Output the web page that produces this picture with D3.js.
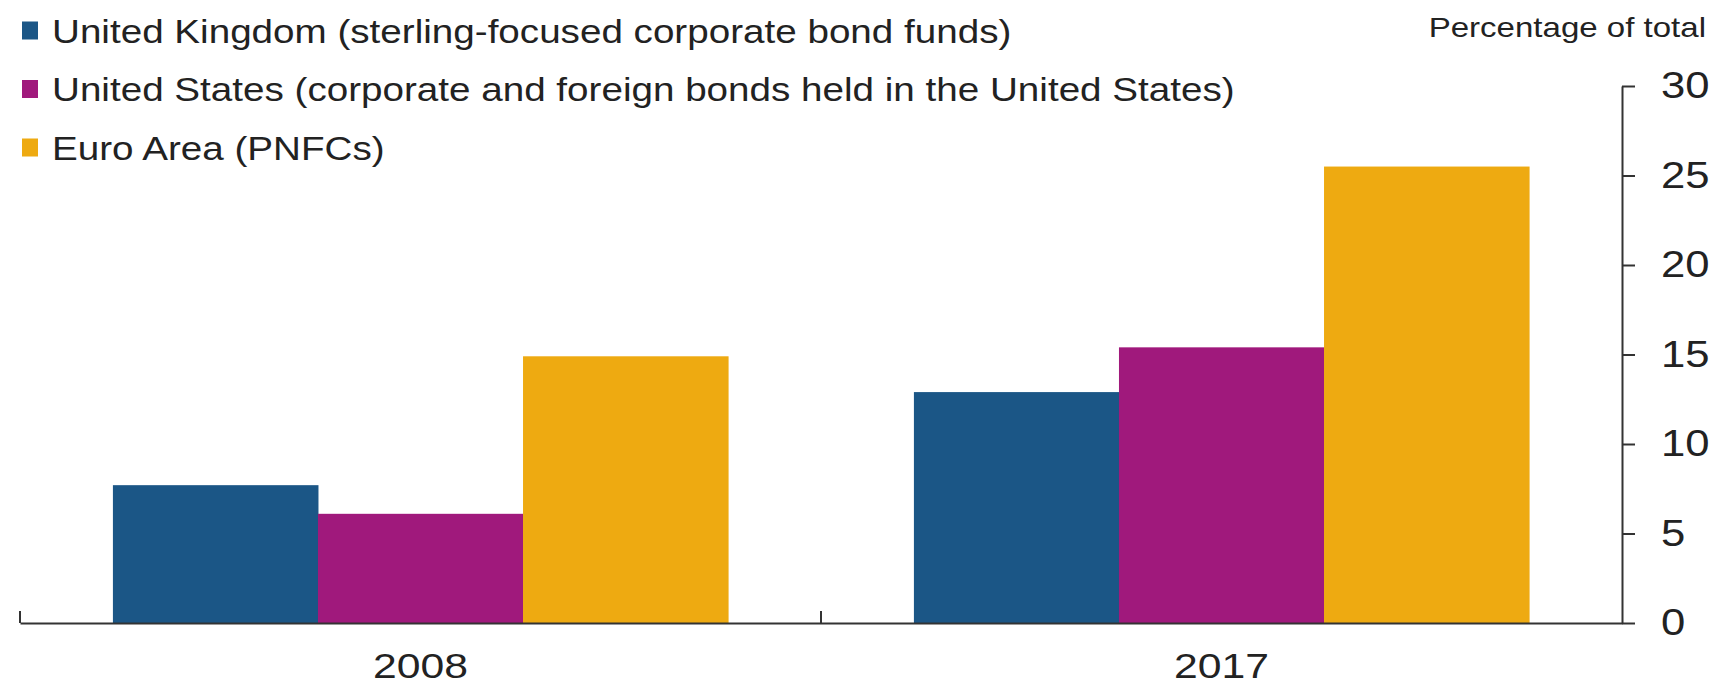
<!DOCTYPE html>
<html>
<head>
<meta charset="utf-8">
<script src="https://cdn.jsdelivr.net/npm/d3@7"></script>
<style>
  html, body { margin: 0; padding: 0; background: #fff; }
  svg { display: block; font-family: "Liberation Sans", Arial, sans-serif; }
</style>
</head>
<body>
<svg id="chart" width="1714" height="687"></svg>
<script>
// Share of bonds, percentage of total
const years = ["2008", "2017"];
const seriesNames = [
  "United Kingdom (sterling-focused corporate bond funds)",
  "United States (corporate and foreign bonds held in the United States)",
  "Euro Area (PNFCs)"
];
const ukValues = [7.7, 12.9];
const usValues = [6.1, 15.4];
const euroValues = [14.9, 25.5];
const yTicks = [0, 5, 10, 15, 20, 25, 30];
const unitLabel = "Percentage of total";

const colors = ["#1b5686", "#a0197c", "#eeaa11"];
const seriesValues = [ukValues, usValues, euroValues];

const svg = d3.select("#chart");
const textColor = "#222";
const axisColor = "#333";

const plot = { left: 20, right: 1622, top: 86, bottom: 623 };

// widen glyphs to the chart's text proportions
function stretch(sel, k) {
  sel.each(function () {
    const w = this.getComputedTextLength();
    this.setAttribute("textLength", w * k);
    this.setAttribute("lengthAdjust", "spacingAndGlyphs");
  });
}

const x0 = d3.scaleBand().domain(years).range([plot.left, plot.right]).padding(0);
const bw = x0.bandwidth();
const x1 = d3.scaleBand().domain(d3.range(seriesNames.length))
  .range([bw * 0.116, bw * 0.884]).padding(0);
const y = d3.scaleLinear().domain([0, 30]).range([plot.bottom, plot.top]);

// bars
const groups = svg.append("g").selectAll("g")
  .data(years)
  .join("g")
  .attr("transform", d => `translate(${x0(d)},0)`);

groups.selectAll("rect")
  .data((d, i) => seriesValues.map((vals, s) => ({ s, v: vals[i] })))
  .join("rect")
  .attr("x", d => x1(d.s))
  .attr("width", x1.bandwidth() + 0.5)
  .attr("y", d => y(d.v))
  .attr("height", d => y(0) - y(d.v))
  .attr("fill", d => colors[d.s]);

// right value axis
const yAxis = svg.append("g")
  .attr("transform", `translate(${plot.right},0)`)
  .call(d3.axisRight(y).tickValues(yTicks).tickSize(13).tickSizeOuter(0).tickPadding(26));
yAxis.select(".domain").attr("stroke", axisColor).attr("stroke-width", 2);
yAxis.selectAll(".tick line").attr("stroke", axisColor).attr("stroke-width", 2);
yAxis.selectAll(".tick text")
  .attr("fill", textColor)
  .style("font-size", "37px")
  .style("font-family", "'Liberation Sans', Arial, sans-serif")
  .call(stretch, 1.18);

// category axis along the baseline
const xAxis = svg.append("g")
  .attr("transform", `translate(0,${plot.bottom})`)
  .call(d3.axisBottom(x0).tickSize(0).tickSizeOuter(0).tickPadding(30));
xAxis.select(".domain").attr("stroke", axisColor).attr("stroke-width", 2);
xAxis.selectAll(".tick text")
  .attr("fill", textColor)
  .style("font-size", "35px")
  .style("font-family", "'Liberation Sans', Arial, sans-serif")
  .call(stretch, 1.22);

// band separators rising from the baseline
xAxis.append("g").selectAll("line")
  .data(years)
  .join("line")
  .attr("x1", d => x0(d))
  .attr("x2", d => x0(d))
  .attr("y1", 0)
  .attr("y2", -12)
  .attr("stroke", axisColor)
  .attr("stroke-width", 2);

// unit label
svg.append("text")
  .attr("x", 1706)
  .attr("y", 37)
  .attr("text-anchor", "end")
  .attr("fill", textColor)
  .style("font-size", "28px")
  .text(unitLabel)
  .call(stretch, 1.18);

// legend
const legend = svg.append("g").selectAll("g")
  .data(seriesNames)
  .join("g")
  .attr("transform", (d, i) => `translate(0,${30.5 + i * 58.5})`);
legend.append("rect")
  .attr("x", 22).attr("y", -9)
  .attr("width", 16).attr("height", 18)
  .attr("fill", (d, i) => colors[i]);
legend.append("text")
  .attr("x", 52)
  .attr("y", 12)
  .attr("fill", textColor)
  .style("font-size", "33px")
  .text(d => d)
  .call(stretch, 1.17);
</script>
</body>
</html>
